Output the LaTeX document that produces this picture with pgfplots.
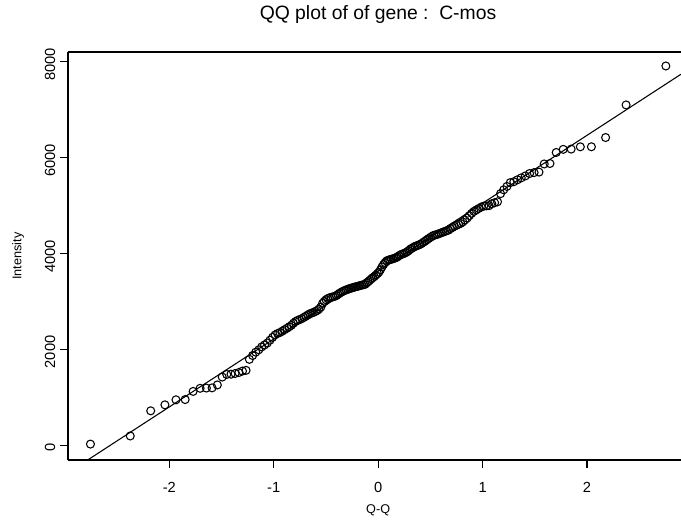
\documentclass[border=0pt]{standalone}
\usepackage{fontspec}
\setmainfont{Liberation Sans}
\usepackage{pgfplots}
\pgfplotsset{compat=1.18}
\begin{document}
\begin{tikzpicture}
\begin{axis}[
 scale only axis, width=459.75pt, height=306pt,
 xmin=-2.97, xmax=2.90, ymin=-312, ymax=8208,
 axis x line*=bottom, axis y line*=left,
 axis line style={line width=0.9pt, -},
 tick align=outside, major tick length=6pt,
 tick style={line width=0.8pt, black},
 xtick={-2,-1,0,1,2}, ytick={0,2000,4000,6000,8000},
 /pgf/number format/assume math mode=true,
 /pgf/number format/1000 sep={},
 tick label style={font=\fontsize{11}{13}\selectfont},
 yticklabel style={rotate=90, anchor=south, xshift=-2pt},
 xticklabel style={anchor=north, yshift=-7pt},
 xlabel={Q-Q},
 xlabel style={at={(axis description cs:0.506,-0.1225)}, anchor=center, font=\fontsize{9.5}{11}\selectfont},
 ylabel={Intensity},
 ylabel style={at={(axis description cs:-0.0816,0.5)}, anchor=center, font=\fontsize{9.5}{11}\selectfont},
]
\addplot[black, line width=0.8pt] coordinates {(-2.97,-579) (2.90,7744)};
\addplot[only marks, mark=o, mark size=3pt, mark options={line width=0.8pt, black}] coordinates {
(-2.755,20) (-2.374,190) (-2.178,715) (-2.042,840) (-1.936,945) (-1.848,950)
(-1.772,1120) (-1.705,1185) (-1.645,1190) (-1.590,1195) (-1.540,1255) (-1.493,1420)
(-1.450,1475) (-1.409,1480) (-1.370,1495) (-1.334,1515) (-1.299,1545) (-1.265,1560)
(-1.233,1790) (-1.202,1870) (-1.172,1940) (-1.143,1990) (-1.115,2050) (-1.088,2090)
(-1.062,2130) (-1.036,2190) (-1.011,2250) (-0.987,2300) (-0.963,2330) (-0.940,2350)
(-0.917,2380) (-0.895,2410) (-0.873,2440) (-0.852,2470) (-0.831,2500) (-0.811,2545)
(-0.790,2580) (-0.770,2605) (-0.751,2620) (-0.731,2640) (-0.712,2665) (-0.693,2690)
(-0.674,2715) (-0.656,2740) (-0.638,2755) (-0.620,2770) (-0.602,2790) (-0.584,2810)
(-0.567,2840) (-0.549,2880) (-0.532,2960) (-0.516,3000) (-0.499,3035) (-0.482,3060)
(-0.466,3075) (-0.450,3085) (-0.433,3095) (-0.417,3105) (-0.401,3120) (-0.385,3145)
(-0.370,3170) (-0.354,3190) (-0.338,3210) (-0.323,3225) (-0.307,3240) (-0.292,3252)
(-0.277,3265) (-0.261,3275) (-0.246,3285) (-0.231,3295) (-0.216,3305) (-0.201,3312)
(-0.186,3322) (-0.171,3332) (-0.156,3340) (-0.141,3348) (-0.126,3355) (-0.111,3385)
(-0.096,3410) (-0.081,3440) (-0.066,3470) (-0.052,3495) (-0.037,3520) (-0.022,3550)
(-0.007,3580) (0.007,3610) (0.022,3660) (0.037,3720) (0.052,3770) (0.066,3810)
(0.081,3845) (0.096,3860) (0.111,3870) (0.126,3880) (0.141,3890) (0.156,3900)
(0.171,3915) (0.186,3930) (0.201,3955) (0.216,3975) (0.231,3990) (0.246,4000)
(0.261,4015) (0.277,4035) (0.292,4060) (0.307,4090) (0.323,4110) (0.338,4130)
(0.354,4150) (0.370,4162) (0.385,4175) (0.401,4190) (0.417,4210) (0.433,4235)
(0.450,4260) (0.466,4285) (0.482,4310) (0.499,4335) (0.516,4360) (0.532,4378)
(0.549,4390) (0.567,4400) (0.584,4415) (0.602,4430) (0.620,4445) (0.638,4460)
(0.656,4475) (0.674,4490) (0.693,4520) (0.712,4545) (0.731,4570) (0.751,4590)
(0.770,4610) (0.790,4630) (0.811,4660) (0.831,4700) (0.852,4740) (0.873,4790)
(0.895,4840) (0.917,4880) (0.940,4910) (0.963,4940) (0.987,4970) (1.011,4990)
(1.036,4995) (1.062,5000) (1.088,5040) (1.115,5060) (1.143,5080) (1.172,5250)
(1.202,5330) (1.233,5400) (1.265,5480) (1.299,5500) (1.334,5540) (1.370,5580)
(1.409,5620) (1.450,5670) (1.493,5690) (1.540,5700) (1.590,5870) (1.645,5880)
(1.705,6110) (1.772,6175) (1.848,6180) (1.936,6228) (2.042,6229) (2.178,6422)
(2.374,7103) (2.755,7916)
};
\end{axis}
\draw[line width=0.9pt] (current axis.north west) -- (current axis.north east);
\node[anchor=base, font=\fontsize{14.5}{17}\selectfont, inner sep=0pt]
  at ([xshift=232.5pt,yshift=24.75pt]current axis.north west) {QQ plot of of gene :\ \ C-mos};
\pgfresetboundingbox
\path[use as bounding box] ([xshift=-51pt,yshift=-50.25pt]current axis.south west) rectangle ([yshift=39pt]current axis.north east);
\end{tikzpicture}
\end{document}
